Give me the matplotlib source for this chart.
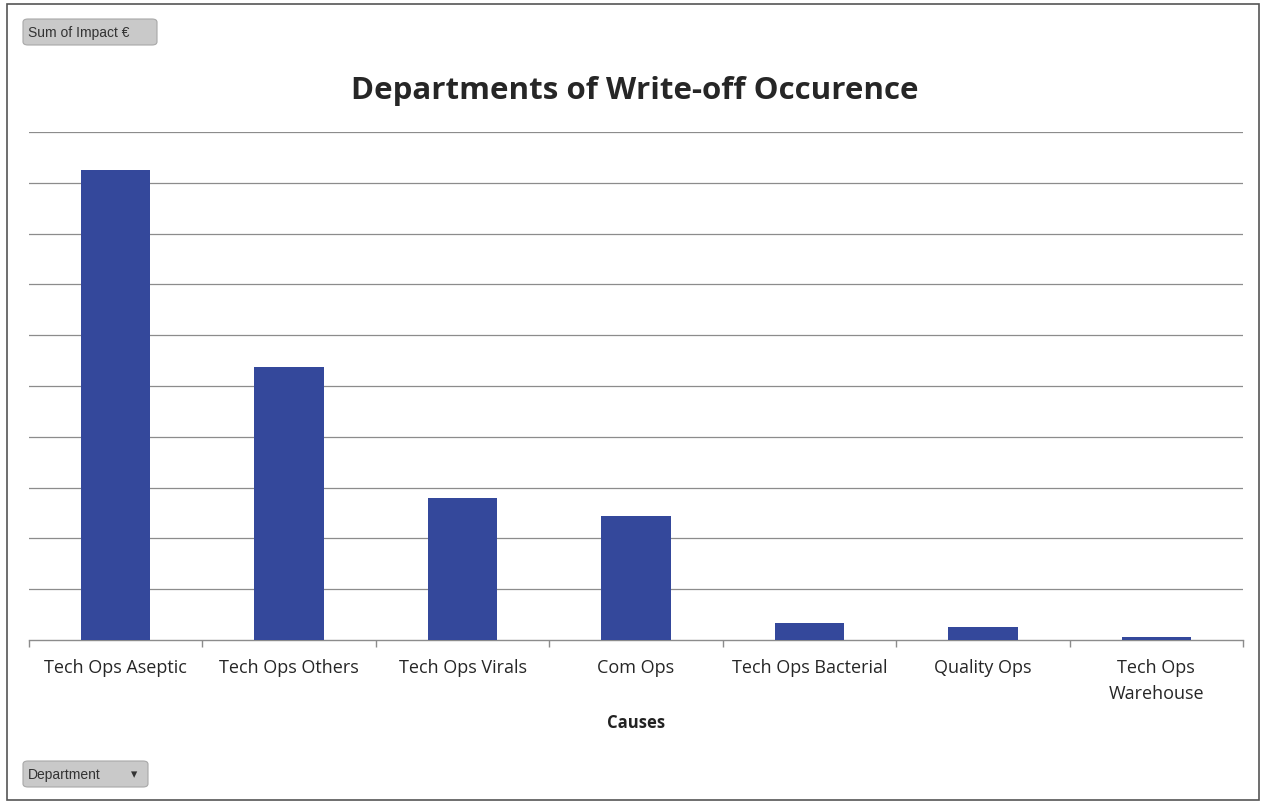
import matplotlib
matplotlib.use("Agg")
import matplotlib.pyplot as plt
from matplotlib.patches import FancyBboxPatch, Rectangle

departments = ["Tech Ops Aseptic", "Tech Ops Others", "Tech Ops Virals", "Com Ops",
               "Tech Ops Bacterial", "Quality Ops", "Tech Ops\nWarehouse"]
impact = [9.26, 5.38, 2.80, 2.45, 0.33, 0.25, 0.05]
grid_levels = list(range(0, 11))

plt.rcParams["font.family"] = ["Open Sans", "DejaVu Sans"]

fig = plt.figure(figsize=(12.65, 8.03), dpi=100)
ax = fig.add_axes([29 / 1265, 1 - 641 / 803, (1243 - 29) / 1265, (641 - 133) / 803])

x = list(range(len(departments)))
ax.bar(x, impact, width=0.40, color="#34489b", zorder=3)

ax.set_xlim(-0.5, len(departments) - 0.5)
ax.set_ylim(0, 10)
for g in grid_levels[1:]:
    ax.axhline(g, color="#8c8c8c", lw=0.9, zorder=1)

for side in ["top", "right", "left"]:
    ax.spines[side].set_visible(False)
ax.spines["bottom"].set_color("#8c8c8c")
ax.spines["bottom"].set_linewidth(1.0)
ax.set_yticks([])

# category separators as ticks on the baseline
ax.set_xticks([i - 0.5 for i in range(len(departments) + 1)], minor=False)
ax.set_xticklabels([])
ax.tick_params(axis="x", which="major", direction="out", length=5, color="#8c8c8c", width=1)
ax.set_xticks(x, minor=True)
ax.set_xticklabels(departments, minor=True, fontsize=13, color="#262626",
                   linespacing=1.55)
ax.tick_params(axis="x", which="minor", length=0, pad=13)
for lbl in ax.get_xticklabels(minor=True):
    lbl.set_verticalalignment("top")

ax.set_xlabel("Causes", fontsize=12, fontweight="bold", color="#222222", labelpad=8)

fig.text(635 / 1265, 1 - 91 / 803, "Departments of Write-off Occurence",
         ha="center", va="center", fontsize=22.5, fontweight="bold", color="#262626")

# outer chart border
fig.patches.append(Rectangle((7 / 1265, 1 - 801 / 803), (1259 - 7) / 1265, (801 - 5) / 803,
                             transform=fig.transFigure, fill=False,
                             edgecolor="#555555", lw=1.2))

# pivot field buttons
def field_button(x0, y0, w, h, text, arrow=False):
    fig.patches.append(FancyBboxPatch((x0 / 1265, 1 - (y0 + h) / 803), w / 1265, h / 803,
                                      boxstyle="round,pad=0,rounding_size=0.004",
                                      transform=fig.transFigure, facecolor="#c9c9c9",
                                      edgecolor="#a8a8a8", lw=0.8))
    fig.text((x0 + 5) / 1265, 1 - (y0 + h / 2) / 803, text, ha="left", va="center",
             fontsize=10, color="#333333", family=["Liberation Sans", "DejaVu Sans"])
    if arrow:
        fig.text((x0 + w - 14) / 1265, 1 - (y0 + h / 2) / 803, "▾", ha="center",
                 va="center", fontsize=9, color="#333333", family="DejaVu Sans")

field_button(23, 20, 134, 26, "Sum of Impact €")
field_button(23, 762, 125, 26, "Department", arrow=True)

fig.savefig("out.png", dpi=100, facecolor="white")
